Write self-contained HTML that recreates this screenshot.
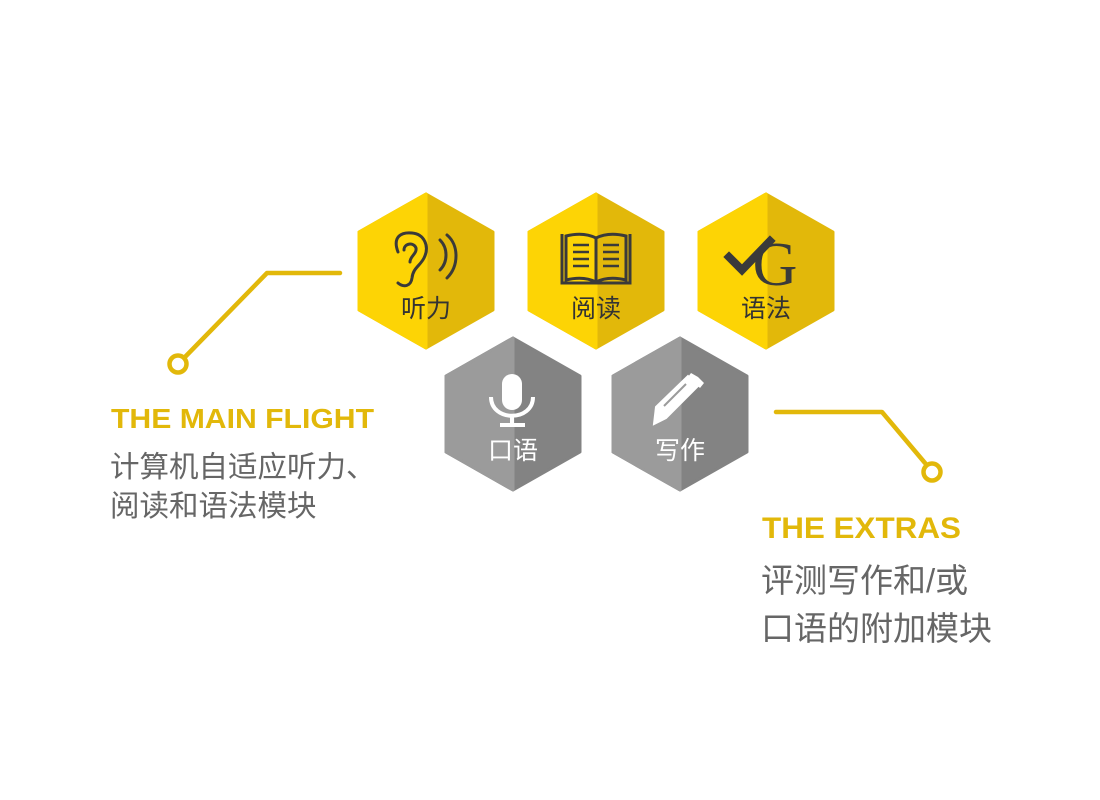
<!DOCTYPE html>
<html><head><meta charset="utf-8"><style>
html,body{margin:0;padding:0;background:#fff;}
svg{display:block}
text{font-family:"Liberation Sans","Noto Sans CJK SC",sans-serif;}
</style></head><body>
<svg width="1100" height="800" viewBox="0 0 1100 800" xmlns="http://www.w3.org/2000/svg">
<g stroke="#E2B80A" stroke-width="4.5" fill="none" stroke-linecap="round" stroke-linejoin="round">
<polyline points="340,273 267,273 185,357"/>
<circle cx="178" cy="364" r="8.5" fill="#fff"/>
<polyline points="776,412 882,412 925,463"/>
<circle cx="932" cy="472" r="8.5" fill="#fff"/>
</g>
<g>
<g transform="translate(426,271)">
<polygon points="0,-77 67,-39 67,39 0,77 -67,39 -67,-39" fill="#E2B80A" stroke="#E2B80A" stroke-width="3" stroke-linejoin="round"/>
<polygon points="0,-77 0,77 -67,39 -67,-39" fill="#FDD405" stroke="#FDD405" stroke-width="3" stroke-linejoin="round"/>
</g>
<g transform="translate(596,271)">
<polygon points="0,-77 67,-39 67,39 0,77 -67,39 -67,-39" fill="#E2B80A" stroke="#E2B80A" stroke-width="3" stroke-linejoin="round"/>
<polygon points="0,-77 0,77 -67,39 -67,-39" fill="#FDD405" stroke="#FDD405" stroke-width="3" stroke-linejoin="round"/>
</g>
<g transform="translate(766,271)">
<polygon points="0,-77 67,-39 67,39 0,77 -67,39 -67,-39" fill="#E2B80A" stroke="#E2B80A" stroke-width="3" stroke-linejoin="round"/>
<polygon points="0,-77 0,77 -67,39 -67,-39" fill="#FDD405" stroke="#FDD405" stroke-width="3" stroke-linejoin="round"/>
</g>
<g transform="translate(513,414)">
<polygon points="0,-76 67,-38 67,38 0,76 -67,38 -67,-38" fill="#838383" stroke="#838383" stroke-width="3" stroke-linejoin="round"/>
<polygon points="0,-76 0,76 -67,38 -67,-38" fill="#9B9B9B" stroke="#9B9B9B" stroke-width="3" stroke-linejoin="round"/>
</g>
<g transform="translate(680,414)">
<polygon points="0,-76 67,-38 67,38 0,76 -67,38 -67,-38" fill="#838383" stroke="#838383" stroke-width="3" stroke-linejoin="round"/>
<polygon points="0,-76 0,76 -67,38 -67,-38" fill="#9B9B9B" stroke="#9B9B9B" stroke-width="3" stroke-linejoin="round"/>
</g>
</g>
<g stroke="#3a3a3a" stroke-width="3" fill="none" stroke-linecap="round">
<path d="M398,252 C392,236 402,232 412,233 C424,234 430,246 424,258 C420,266 413,268 412,278 C411,286 404,288 398,283"/>
<path d="M404,250 C404,243 414,242 416,248 C417,254 410,256 410,262"/>
<path d="M440,240 C448,248 448,262 440,270"/>
<path d="M447,235 C459,245 459,266 447,278"/>
</g>
<g stroke="#3a3a3a" stroke-width="3" fill="none">
<path d="M562,234 L562,283 L630,283 L630,234"/>
<path d="M566,236 C578,233 588,234 596,238 C604,234 614,233 626,236 L626,280 C614,277 604,278 596,282 C588,278 578,277 566,280 Z"/>
<line x1="596" y1="238" x2="596" y2="282"/>
<g stroke-width="2.5">
<line x1="573" y1="245" x2="589" y2="245"/><line x1="573" y1="252" x2="589" y2="252"/><line x1="573" y1="259" x2="589" y2="259"/><line x1="573" y1="266" x2="589" y2="266"/>
<line x1="603" y1="245" x2="619" y2="245"/><line x1="603" y1="252" x2="619" y2="252"/><line x1="603" y1="259" x2="619" y2="259"/><line x1="603" y1="266" x2="619" y2="266"/>
</g>
</g>
<text x="775" y="285" font-size="62" fill="#3a3a3a" text-anchor="middle" style="font-family:'Liberation Serif',serif">G</text>
<path d="M729,257 L742,270 L770,241" stroke="#3a3a3a" stroke-width="8" fill="none" stroke-linecap="square"/>
<g fill="#fff">
<rect x="502" y="374" width="20" height="36" rx="10"/>
<path d="M491,397 C491,422 533,422 533,397" stroke="#fff" stroke-width="4" fill="none"/>
<rect x="510" y="416" width="4" height="9"/>
<rect x="500" y="423" width="25" height="4"/>
</g>
<g fill="#fff">
<path d="M656,407 L688,376 L698,386 L666,418 L654,424 Z" stroke="#fff" stroke-width="2"/>
<path d="M691,373 L698,377 L704,383 L700,388 L688,377 Z"/>
<path d="M664,406 L686,384" stroke="#9B9B9B" stroke-width="2"/>
</g>
<g font-size="25" text-anchor="middle">
<text x="426" y="317" fill="#333">听力</text>
<text x="596" y="317" fill="#333">阅读</text>
<text x="766" y="317" fill="#333">语法</text>
<text x="513" y="459" fill="#fff">口语</text>
<text x="680" y="459" fill="#fff">写作</text>
</g>
<text x="111" y="428" font-size="28" font-weight="bold" fill="#E2B80A" textLength="263" lengthAdjust="spacingAndGlyphs">THE MAIN FLIGHT</text>
<text x="110" y="477" font-size="29.5" fill="#666">计算机自适应听力、</text>
<text x="110" y="516" font-size="29.5" fill="#666">阅读和语法模块</text>
<text x="762" y="538" font-size="30" font-weight="bold" fill="#E2B80A" textLength="199" lengthAdjust="spacingAndGlyphs">THE EXTRAS</text>
<text x="761" y="592" font-size="33" fill="#666">评测写作和/或</text>
<text x="761" y="640" font-size="33" fill="#666">口语的附加模块</text>
</svg>
</body></html>
